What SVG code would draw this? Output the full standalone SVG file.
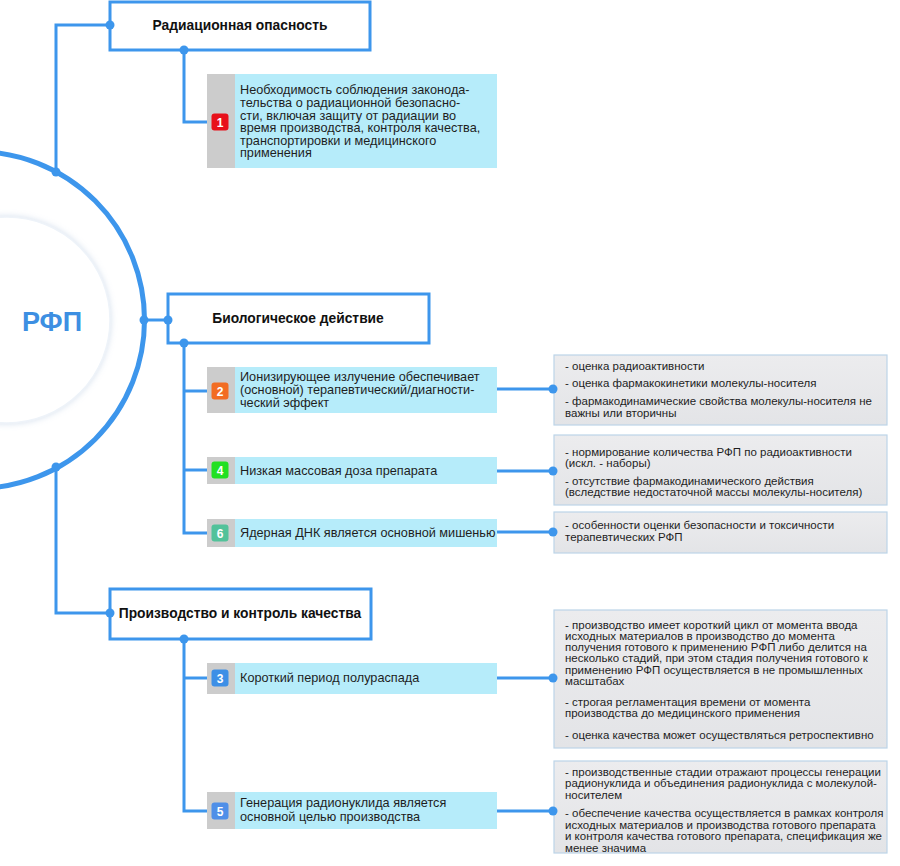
<svg xmlns="http://www.w3.org/2000/svg" width="900" height="866" viewBox="0 0 900 866">
<defs>
<filter id="sh" x="-30%" y="-30%" width="160%" height="160%">
<feGaussianBlur in="SourceAlpha" stdDeviation="3"/>
<feOffset dx="0" dy="0" result="b"/>
<feFlood flood-color="#9fb8d6" flood-opacity="0.45"/>
<feComposite in2="b" operator="in"/>
<feMerge><feMergeNode/><feMergeNode in="SourceGraphic"/></feMerge>
</filter>
<linearGradient id="gg" x1="0" y1="0" x2="0" y2="1">
<stop offset="0" stop-color="#ececee"/>
<stop offset="1" stop-color="#e3e4e7"/>
</linearGradient>
</defs>
<style>
.ln{fill:none;stroke:#3d96ec;stroke-width:3}
.dot{fill:#3d96ec}
.hdr{fill:#fff;stroke:#3d96ec;stroke-width:3}
.ht{font-family:"Liberation Sans",Arial,sans-serif;font-weight:bold;font-size:13.8px;fill:#111;text-anchor:middle}
.gs{fill:#cccccc}
.cy{fill:#b6ecfa}
.it{font-family:"Liberation Sans",Arial,sans-serif;font-size:12.7px;fill:#1e1e1e}
.bt{font-family:"Liberation Sans",Arial,sans-serif;font-weight:bold;font-size:12px;fill:#fff;text-anchor:middle}
.gb{fill:url(#gg);stroke:#bcd4e8;stroke-width:1.2}
.gt{font-family:"Liberation Sans",Arial,sans-serif;font-size:11.5px;fill:#1e1e1e}
</style>
<rect width="900" height="866" fill="#fff"/>

<g id="center">
<circle cx="-24" cy="320" r="168.5" fill="#fff" stroke="#3d96ec" stroke-width="5"/>
<circle cx="7" cy="320" r="103" fill="#fff" stroke="#eef3f9" stroke-width="1.5" filter="url(#sh)"/>
<text x="52" y="331" font-family="Liberation Sans,Arial,sans-serif" font-weight="bold" font-size="27" fill="#3d8fe2" text-anchor="middle">РФП</text>
</g>

<g id="connectors">
<path class="ln" d="M56,172 V25 H110"/>
<path class="ln" d="M184,50 V122 H207"/>
<path class="ln" d="M144,320 H168"/>
<path class="ln" d="M184,343 V533 H207"/>
<path class="ln" d="M184,391 H207"/>
<path class="ln" d="M184,470 H207"/>
<path class="ln" d="M56,467 V613 H110"/>
<path class="ln" d="M184,639 V811 H207"/>
<path class="ln" d="M184,678 H207"/>
<path class="ln" d="M497,389 H553"/>
<path class="ln" d="M497,471 H553"/>
<path class="ln" d="M497,532 H553"/>
<path class="ln" d="M497,678 H553"/>
<path class="ln" d="M497,811 H553"/>
</g>

<g id="h1">
<rect class="hdr" x="110" y="2" width="260" height="48"/>
<text class="ht" x="240" y="30">Радиационная опасность</text>
</g>
<g id="h2">
<rect class="hdr" x="168" y="294" width="261" height="49"/>
<text class="ht" x="298" y="323">Биологическое действие</text>
</g>
<g id="h3">
<rect class="hdr" x="110" y="589" width="261" height="50"/>
<text class="ht" x="240" y="618">Производство и контроль качества</text>
</g>

<g id="i1">
<rect class="gs" x="207" y="74" width="28" height="94"/>
<rect class="cy" x="235" y="74" width="262" height="94"/>
<rect x="211.5" y="113.5" width="17" height="17" rx="3" fill="#e8101a"/>
<text class="bt" x="220" y="126.5">1</text>
<text class="it" x="240" y="94">Необходимость соблюдения законода-</text>
<text class="it" x="240" y="107">тельства о радиационной безопасно-</text>
<text class="it" x="240" y="119.5">сти, включая защиту от радиации во</text>
<text class="it" x="240" y="132">время производства, контроля качества,</text>
<text class="it" x="240" y="144.5">транспортировки и медицинского</text>
<text class="it" x="240" y="157">применения</text>
</g>

<g id="i2">
<rect class="gs" x="207" y="367" width="28" height="46"/>
<rect class="cy" x="235" y="367" width="262" height="46"/>
<rect x="211.5" y="382.5" width="17" height="17" rx="3" fill="#f26c22"/>
<text class="bt" x="220" y="395.5">2</text>
<text class="it" x="240" y="381">Ионизирующее излучение обеспечивает</text>
<text class="it" x="240" y="394">(основной) терапевтический/диагности-</text>
<text class="it" x="240" y="407">ческий эффект</text>
</g>

<g id="i4">
<rect class="gs" x="207" y="457" width="28" height="27"/>
<rect class="cy" x="235" y="457" width="262" height="27"/>
<rect x="211.5" y="461.5" width="17" height="17" rx="3" fill="#22e022"/>
<text class="bt" x="220" y="474.5">4</text>
<text class="it" x="240" y="475">Низкая массовая доза препарата</text>
</g>

<g id="i6">
<rect class="gs" x="207" y="519" width="28" height="28"/>
<rect class="cy" x="235" y="519" width="262" height="28"/>
<rect x="211.5" y="524.5" width="17" height="17" rx="3" fill="#52c29a"/>
<text class="bt" x="220" y="537.5">6</text>
<text class="it" x="240" y="537">Ядерная ДНК является основной мишенью</text>
</g>

<g id="i3">
<rect class="gs" x="207" y="663" width="28" height="31"/>
<rect class="cy" x="235" y="663" width="262" height="31"/>
<rect x="211.5" y="669.5" width="17" height="17" rx="3" fill="#3d8fe6"/>
<text class="bt" x="220" y="682.5">3</text>
<text class="it" x="240" y="682">Короткий период полураспада</text>
</g>

<g id="i5">
<rect class="gs" x="207" y="792" width="28" height="37"/>
<rect class="cy" x="235" y="792" width="262" height="37"/>
<rect x="211.5" y="802.5" width="17" height="17" rx="3" fill="#4f8fe8"/>
<text class="bt" x="220" y="815.5">5</text>
<text class="it" x="240" y="807">Генерация радионуклида является</text>
<text class="it" x="240" y="821">основной целью производства</text>
</g>

<g id="g1">
<rect class="gb" x="554" y="355" width="333" height="70"/>
<text class="gt" x="565" y="370">- оценка радиоактивности</text>
<text class="gt" x="565" y="387">- оценка фармакокинетики молекулы-носителя</text>
<text class="gt" x="565" y="405">- фармакодинамические свойства молекулы-носителя не</text>
<text class="gt" x="565" y="417">важны или вторичны</text>
</g>
<g id="g2">
<rect class="gb" x="554" y="435" width="333" height="70"/>
<text class="gt" x="565" y="456">- нормирование количества РФП по радиоактивности</text>
<text class="gt" x="565" y="467">(искл. - наборы)</text>
<text class="gt" x="565" y="485">- отсутствие фармакодинамического действия</text>
<text class="gt" x="565" y="496">(вследствие недостаточной массы молекулы-носителя)</text>
</g>
<g id="g3">
<rect class="gb" x="554" y="512" width="333" height="41"/>
<text class="gt" x="565" y="529">- особенности оценки безопасности и токсичности</text>
<text class="gt" x="565" y="541">терапевтических РФП</text>
</g>
<g id="g4">
<rect class="gb" x="554" y="610" width="333" height="138"/>
<text class="gt" x="565" y="629">- производство имеет короткий цикл от момента ввода</text>
<text class="gt" x="565" y="640">исходных материалов в производство до момента</text>
<text class="gt" x="565" y="651">получения готового к применению РФП либо делится на</text>
<text class="gt" x="565" y="662">несколько стадий, при этом стадия получения готового к</text>
<text class="gt" x="565" y="674">применению РФП осуществляется в не промышленных</text>
<text class="gt" x="565" y="685">масштабах</text>
<text class="gt" x="565" y="706">- строгая регламентация времени от момента</text>
<text class="gt" x="565" y="717">производства до медицинского применения</text>
<text class="gt" x="565" y="739">- оценка качества может осуществляться ретроспективно</text>
</g>
<g id="g5">
<rect class="gb" x="554" y="761" width="333" height="92"/>
<text class="gt" x="565" y="776">- производственные стадии отражают процессы генерации</text>
<text class="gt" x="565" y="787">радионуклида и объединения радионуклида с молекулой-</text>
<text class="gt" x="565" y="799">носителем</text>
<text class="gt" x="565" y="817">- обеспечение качества осуществляется в рамках контроля</text>
<text class="gt" x="565" y="829">исходных материалов и производства готового препарата</text>
<text class="gt" x="565" y="840">и контроля качества готового препарата, спецификация же</text>
<text class="gt" x="565" y="852">менее значима</text>
</g>

<g id="dots">
<circle class="dot" cx="56" cy="172" r="4.5"/>
<circle class="dot" cx="110" cy="25" r="4.5"/>
<circle class="dot" cx="184" cy="50" r="4.5"/>
<circle class="dot" cx="144" cy="320" r="4.5"/>
<circle class="dot" cx="168" cy="320" r="4.5"/>
<circle class="dot" cx="184" cy="343" r="4.5"/>
<circle class="dot" cx="56" cy="467" r="4.5"/>
<circle class="dot" cx="110" cy="613" r="4.5"/>
<circle class="dot" cx="184" cy="639" r="4.5"/>
<circle class="dot" cx="553" cy="389" r="4.5"/>
<circle class="dot" cx="553" cy="471" r="4.5"/>
<circle class="dot" cx="553" cy="532" r="4.5"/>
<circle class="dot" cx="553" cy="678" r="4.5"/>
<circle class="dot" cx="553" cy="811" r="4.5"/>
</g>
</svg>
